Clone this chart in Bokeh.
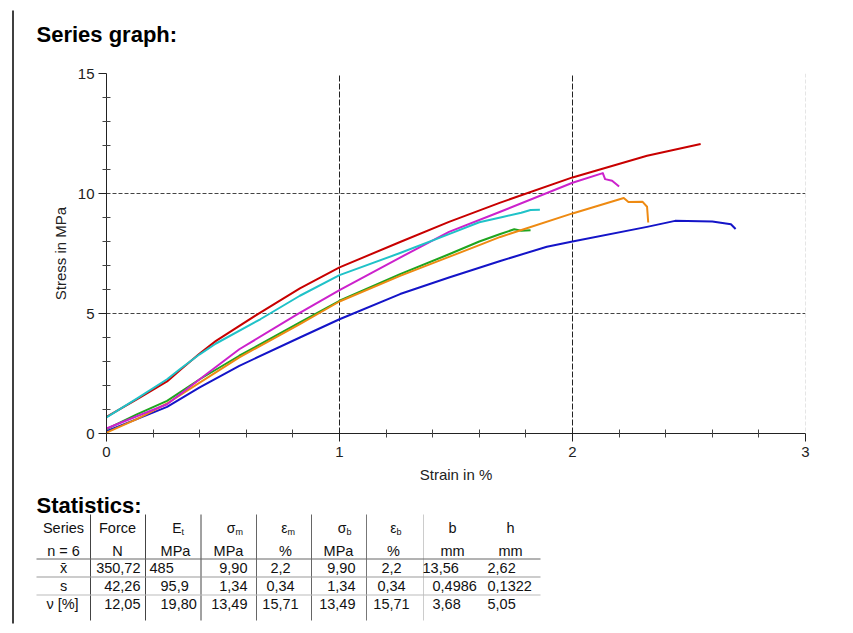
from bokeh.plotting import figure
from bokeh.layouts import row, column
from bokeh.models import Range1d, FixedTicker, Span
from bokeh.core.properties import value
from bokeh.embed import file_html
from bokeh.resources import INLINE

FONT = "Liberation Sans"

# ---------------- data: stress-strain curves ----------------
strain_red = [0, 0.13, 0.26, 0.32, 0.40, 0.47, 0.66, 0.83, 1.0, 1.26, 1.47, 1.69, 2.0, 2.32, 2.55]
stress_red = [0.69, 1.42, 2.17, 2.68, 3.33, 3.86, 5.04, 6.05, 6.92, 7.98, 8.82, 9.62, 10.67, 11.57, 12.06]

strain_cyan = [0, 0.13, 0.26, 0.32, 0.40, 0.47, 0.66, 0.83, 1.0, 1.26, 1.47, 1.6, 1.70, 1.78, 1.82, 1.86]
stress_cyan = [0.67, 1.45, 2.26, 2.72, 3.30, 3.75, 4.76, 5.74, 6.60, 7.52, 8.31, 8.80, 9.02, 9.20, 9.31, 9.32]

strain_magenta = [0, 0.13, 0.26, 0.40, 0.57, 0.82, 1.0, 1.26, 1.47, 1.69, 2.0, 2.13, 2.14, 2.17, 2.20]
stress_magenta = [0.21, 0.72, 1.22, 2.26, 3.51, 4.97, 5.97, 7.33, 8.40, 9.24, 10.45, 10.85, 10.60, 10.53, 10.29]

strain_green = [0, 0.13, 0.26, 0.40, 0.57, 0.83, 1.0, 1.26, 1.47, 1.6, 1.69, 1.75, 1.78, 1.82]
stress_green = [0.18, 0.80, 1.36, 2.26, 3.24, 4.63, 5.53, 6.64, 7.47, 8.00, 8.31, 8.51, 8.45, 8.47]

strain_orange = [0, 0.13, 0.26, 0.40, 0.57, 0.83, 1.0, 1.26, 1.47, 1.6, 1.69, 2.0, 2.22, 2.24, 2.30, 2.32, 2.325]
stress_orange = [0.04, 0.60, 1.25, 2.12, 3.17, 4.56, 5.50, 6.57, 7.36, 7.85, 8.19, 9.17, 9.81, 9.65, 9.66, 9.45, 8.79]

strain_blue = [0, 0.13, 0.26, 0.40, 0.57, 0.83, 1.0, 1.26, 1.47, 1.69, 1.89, 2.0, 2.32, 2.44, 2.6, 2.68, 2.70]
stress_blue = [0.10, 0.60, 1.11, 1.92, 2.82, 4.00, 4.76, 5.81, 6.50, 7.19, 7.78, 8.00, 8.61, 8.86, 8.83, 8.72, 8.52]

x_ticks = [0, 1, 2, 3]
x_minor = [0.2, 0.4, 0.6, 0.8, 1.2, 1.4, 1.6, 1.8, 2.2, 2.4, 2.6, 2.8]
y_ticks = [0, 5, 10, 15]
y_minor = [1, 2, 3, 4, 6, 7, 8, 9, 11, 12, 13, 14]

# ---------------- data: statistics table ----------------
head_main = ["Series", "Force", "E", "σ", "ε", "σ", "ε", "b", "h"]
head_sub = ["", "", "t", "m", "m", "b", "b", "", ""]
head_units = ["n = 6", "N", "MPa", "MPa", "%", "MPa", "%", "mm", "mm"]
stat_labels = ["x̄", "s", "ν [%]"]
force_n = ["350,72", "42,26", "12,05"]
e_t = ["485", "95,9", "19,80"]
sigma_m = ["9,90", "1,34", "13,49"]
eps_m = ["2,2", "0,34", "15,71"]
sigma_b = ["9,90", "1,34", "13,49"]
eps_b = ["2,2", "0,34", "15,71"]
b_mm = ["13,56", "0,4986", "3,68"]
h_mm = ["2,62", "0,1322", "5,05"]


def blank(width, height, xr, yr):
    f = figure(width=width, height=height, x_range=xr, y_range=yr,
               output_backend="svg", toolbar_location=None, x_axis_type=None, y_axis_type=None,
               min_border=0)
    f.frame_align = False
    f.outline_line_color = None
    f.grid.visible = False
    return f


# ---------------- header (section title) ----------------
hdr = blank(831, 54, Range1d(14, 845), Range1d(54, 0))
hdr.text([36], [34], text=["Series graph:"], text_font=value(FONT), text_font_size="22px",
         text_font_style="bold", text_color="black", text_baseline="middle", text_align="left")

# ---------------- chart ----------------
p = figure(width=831, height=436, x_range=Range1d(0, 3), y_range=Range1d(0, 15),
           output_backend="svg", toolbar_location=None,
           min_border_left=92, min_border_right=40, min_border_top=19, min_border_bottom=57)
p.frame_align = False
p.outline_line_color = None
p.background_fill_color = "white"
p.border_fill_color = "white"

p.xaxis.ticker = FixedTicker(ticks=x_ticks, minor_ticks=x_minor)
p.yaxis.ticker = FixedTicker(ticks=y_ticks, minor_ticks=y_minor)
for ax in (p.xaxis, p.yaxis):
    ax.axis_line_color = "#222222"
    ax.major_tick_line_color = "#222222"
    ax.minor_tick_line_color = "#444444"
    ax.major_tick_out = 8
    ax.major_tick_in = 0
    ax.minor_tick_out = 4
    ax.minor_tick_in = 4
    ax.major_label_text_font = FONT
    ax.major_label_text_font_size = "15px"
    ax.major_label_text_color = "#222222"
    ax.axis_label_text_font = FONT
    ax.axis_label_text_font_size = "15px"
    ax.axis_label_text_font_style = "normal"
    ax.axis_label_text_color = "#222222"
p.xaxis.axis_label = "Strain in %"
p.yaxis.axis_label = "Stress in MPa"
p.xaxis.major_label_standoff = 5
p.xaxis.axis_label_standoff = 6
p.yaxis.major_label_standoff = 4
p.yaxis.axis_label_standoff = 6

p.xgrid.ticker = FixedTicker(ticks=[1, 2])
p.xgrid.grid_line_color = "#222222"
p.xgrid.grid_line_dash = "6 2"
p.ygrid.ticker = FixedTicker(ticks=[5, 10, 15])
p.ygrid.grid_line_color = "#444444"
p.ygrid.grid_line_dash = "4 2"
p.add_layout(Span(location=3, dimension="height", line_color="#cccccc", line_dash="4 2", line_width=1))

series = [
    (strain_blue, stress_blue, "#1414c8"),
    (strain_green, stress_green, "#1fa51f"),
    (strain_orange, stress_orange, "#ee8a12"),
    (strain_red, stress_red, "#c80000"),
    (strain_magenta, stress_magenta, "#cc22cc"),
    (strain_cyan, stress_cyan, "#20c2c8"),
]
for xs, ys, col in series:
    p.line(xs, ys, line_color=col, line_width=2, line_join="round")

# ---------------- statistics table ----------------
t = blank(831, 135, Range1d(14, 845), Range1d(625, 490))

t.text([36], [505], text=["Statistics:"], text_font=value(FONT), text_font_size="22px",
       text_font_style="bold", text_color="black", text_baseline="middle", text_align="left")

row_y = [567, 585, 603]
y_head, y_unit = 527, 550

# separators
sep_x = [90, 145, 200.5, 256, 311, 366, 423]
sep_c = ["#444444", "#444444", "#444444", "#666666", "#666666", "#777777", "#cccccc"]
t.segment(x0=sep_x, y0=[514] * 7, x1=sep_x, y1=[620] * 7, line_color=sep_c, line_width=1)
t.segment(x0=[36, 36, 36], y0=[558.5, 576.5, 594.5], x1=[540, 540, 540], y1=[558.5, 576.5, 594.5],
          line_color=["#666666", "#999999", "#bbbbbb"], line_width=1)

def txt(xs, ys, texts, align, size="14.5px", color="#111111"):
    t.text(xs, ys, text=texts, text_font=value(FONT), text_font_size=size, text_color=color,
           text_align=align, text_baseline="middle")

# header row 1
plain_idx = [0, 1, 7, 8]
plain_x = [63, 117, 452, 510]
txt(plain_x, [y_head] * 4, [head_main[i] for i in plain_idx], "center")
sym_idx = [2, 3, 4, 5, 6]
sym_anchor = [181, 235, 287, 346, 396]
txt(sym_anchor, [y_head] * 5, [head_main[i] for i in sym_idx], "right", size="14px")
txt(sym_anchor, [y_head + 4] * 5, [head_sub[i] for i in sym_idx], "left", size="9px")

# header row 2
unit_x = [63, 117, 175, 228, 285, 338, 393, 452, 510]
txt(unit_x, [y_unit] * 9, head_units, "center")

# body
txt([63, 63, 62], row_y, stat_labels, "center")
txt([140] * 3, row_y, force_n, "right")
txt([149, 160, 160], row_y, e_t, "left")
txt([247] * 3, row_y, sigma_m, "right")
txt([280] * 3, row_y, eps_m, "center")
txt([355] * 3, row_y, sigma_b, "right")
txt([391] * 3, row_y, eps_b, "center")
txt([422, 432, 432], row_y, b_mm, "left")
txt([487] * 3, row_y, h_mm, "left")

# ---------------- left rule ----------------
s = blank(14, 625, Range1d(0, 14), Range1d(0, 625))
s.segment(x0=[12.5], y0=[2], x1=[12.5], y1=[615], line_color="black", line_width=1.5)

layout = row(s, column(hdr, p, t))
open("out.html", "w").write(file_html(layout, INLINE))
